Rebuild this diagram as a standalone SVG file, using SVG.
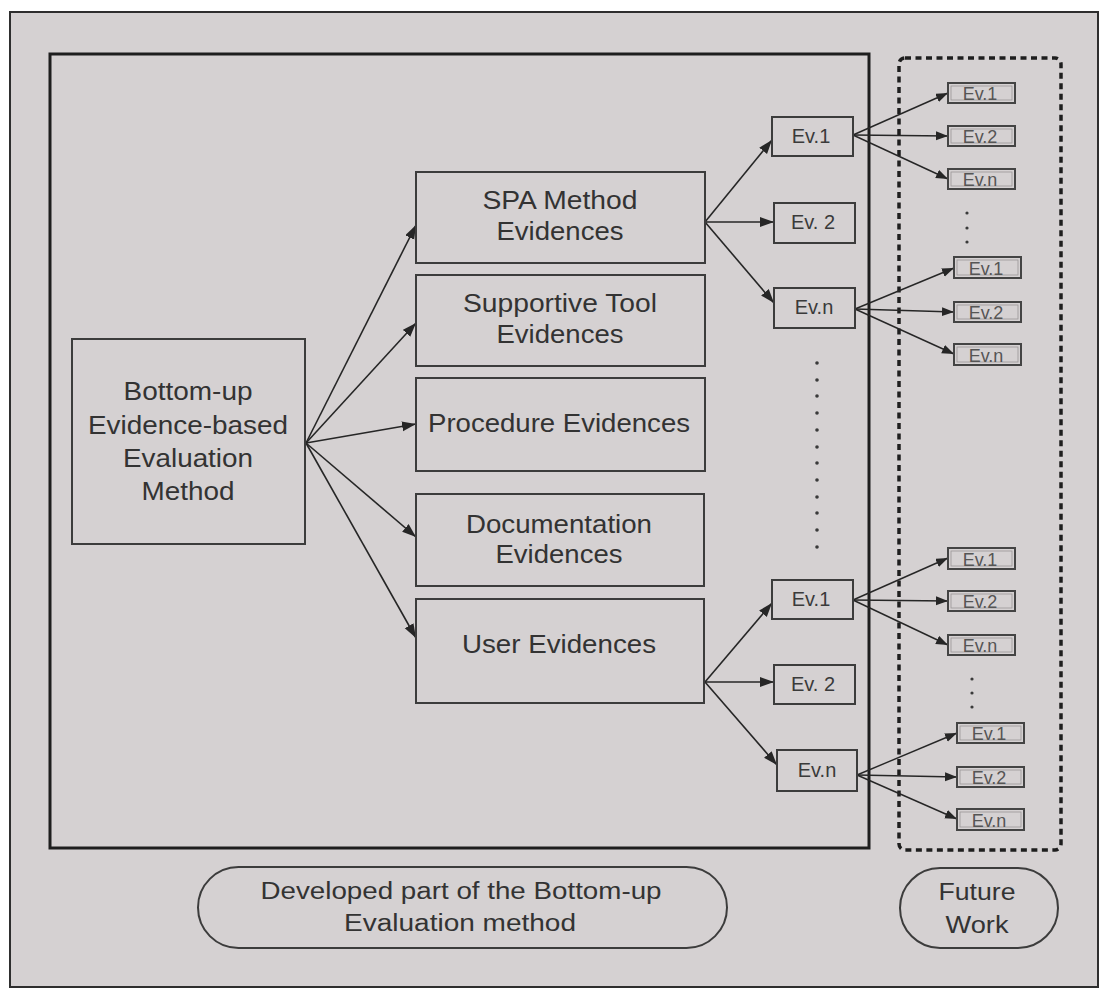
<svg xmlns="http://www.w3.org/2000/svg" width="1102" height="989" viewBox="0 0 1102 989">
  <defs>
    <marker id="arrow" markerUnits="userSpaceOnUse" markerWidth="15" markerHeight="11" refX="14" refY="5" orient="auto">
      <path d="M0,0 L14,5 L0,10 z" fill="#262626"/>
    </marker>
    <marker id="arrowSm" markerUnits="userSpaceOnUse" markerWidth="13" markerHeight="10" refX="12" refY="4.5" orient="auto">
      <path d="M0,0 L12,4.5 L0,9 z" fill="#262626"/>
    </marker>
    <style>
      .box { fill: none; stroke: #3c3c3c; stroke-width: 2; }
      .sm { fill: none; stroke: #444; stroke-width: 2; }
      .smin { fill: none; stroke: #9a9696; stroke-width: 0.8; }
      .lbl { font-family: "Liberation Sans", Arial, sans-serif; font-size: 25px; fill: #333; text-anchor: middle; }
      .ev { font-family: "Liberation Sans", Arial, sans-serif; font-size: 20px; fill: #3a3a3a; text-anchor: middle; }
      .evs { font-family: "Liberation Sans", Arial, sans-serif; font-size: 18px; fill: #555; text-anchor: middle; }
      .cap { font-family: "Liberation Sans", Arial, sans-serif; font-size: 23px; fill: #333; text-anchor: middle; }
      .conn line { stroke: #262626; stroke-width: 1.6; marker-end: url(#arrow); }
      .conn .s line { stroke-width: 1.4; marker-end: url(#arrowSm); }
      .dot { fill: #3a3a3a; }
    </style>
  </defs>

  <!-- page and frame -->
  <rect x="0" y="0" width="1102" height="989" fill="#ffffff"/>
  <rect x="10" y="12" width="1088" height="975" fill="#d5d1d2" stroke="#2e2e2e" stroke-width="2"/>

  <!-- developed part (solid) and future work (dashed) regions -->
  <rect id="developed-region" x="50" y="54" width="819" height="794" fill="none" stroke="#1e1e1e" stroke-width="3"/>
  <rect id="future-region" x="899" y="58" width="162" height="792" rx="6" fill="none" stroke="#1e1e1e" stroke-width="3.5" stroke-dasharray="6 4.5"/>

  <!-- connectors -->
  <g id="connectors" class="conn">
    <line x1="306" y1="443" x2="416" y2="225"/>
    <line x1="306" y1="443" x2="416" y2="323"/>
    <line x1="306" y1="443" x2="416" y2="424"/>
    <line x1="306" y1="443" x2="416" y2="537"/>
    <line x1="306" y1="443" x2="416" y2="638"/>

    <line x1="705" y1="222" x2="772" y2="140"/>
    <line x1="705" y1="222" x2="774" y2="222"/>
    <line x1="705" y1="222" x2="774" y2="303"/>

    <line x1="705" y1="682" x2="772" y2="603"/>
    <line x1="705" y1="682" x2="774" y2="682"/>
    <line x1="705" y1="682" x2="777" y2="765"/>

    <g class="s">
      <line x1="853" y1="135" x2="948" y2="93"/>
      <line x1="853" y1="135" x2="948" y2="136"/>
      <line x1="853" y1="135" x2="948" y2="179"/>

      <line x1="855" y1="309" x2="954" y2="268"/>
      <line x1="855" y1="309" x2="954" y2="312"/>
      <line x1="855" y1="309" x2="954" y2="354"/>

      <line x1="853" y1="600" x2="948" y2="558"/>
      <line x1="853" y1="600" x2="948" y2="601"/>
      <line x1="853" y1="600" x2="948" y2="645"/>

      <line x1="857" y1="775" x2="957" y2="733"/>
      <line x1="857" y1="775" x2="957" y2="777"/>
      <line x1="857" y1="775" x2="957" y2="819"/>
    </g>
  </g>

  <!-- root method -->
  <g id="node-method">
    <rect class="box" x="72" y="339" width="233" height="205"/>
    <text class="lbl" x="188" y="400" textLength="129" lengthAdjust="spacingAndGlyphs">Bottom-up</text>
    <text class="lbl" x="188" y="433.5" textLength="200" lengthAdjust="spacingAndGlyphs">Evidence-based</text>
    <text class="lbl" x="188" y="467" textLength="130" lengthAdjust="spacingAndGlyphs">Evaluation</text>
    <text class="lbl" x="188" y="500" textLength="93" lengthAdjust="spacingAndGlyphs">Method</text>
  </g>

  <!-- evidence categories -->
  <g id="node-spa">
    <rect class="box" x="416" y="172" width="289" height="91"/>
    <text class="lbl" x="560" y="209" textLength="155" lengthAdjust="spacingAndGlyphs">SPA Method</text>
    <text class="lbl" x="560" y="240" textLength="127" lengthAdjust="spacingAndGlyphs">Evidences</text>
  </g>
  <g id="node-tool">
    <rect class="box" x="416" y="275" width="289" height="91"/>
    <text class="lbl" x="560" y="312" textLength="194" lengthAdjust="spacingAndGlyphs">Supportive Tool</text>
    <text class="lbl" x="560" y="343" textLength="127" lengthAdjust="spacingAndGlyphs">Evidences</text>
  </g>
  <g id="node-procedure">
    <rect class="box" x="416" y="378" width="289" height="93"/>
    <text class="lbl" x="559" y="432" textLength="262" lengthAdjust="spacingAndGlyphs">Procedure Evidences</text>
  </g>
  <g id="node-documentation">
    <rect class="box" x="416" y="494" width="288" height="92"/>
    <text class="lbl" x="559" y="533" textLength="186" lengthAdjust="spacingAndGlyphs">Documentation</text>
    <text class="lbl" x="559" y="563" textLength="127" lengthAdjust="spacingAndGlyphs">Evidences</text>
  </g>
  <g id="node-user">
    <rect class="box" x="416" y="599" width="288" height="104"/>
    <text class="lbl" x="559" y="653" textLength="194" lengthAdjust="spacingAndGlyphs">User Evidences</text>
  </g>

  <!-- evidences, upper branch -->
  <g id="node-spa-ev1">
    <rect class="box" x="772" y="117" width="81" height="39"/>
    <text class="ev" x="811" y="143">Ev.1</text>
  </g>
  <g id="node-spa-ev2">
    <rect class="box" x="774" y="203" width="81" height="40"/>
    <text class="ev" x="813" y="229">Ev. 2</text>
  </g>
  <g id="node-spa-evn">
    <rect class="box" x="774" y="288" width="81" height="40"/>
    <text class="ev" x="814" y="314">Ev.n</text>
  </g>

  <!-- evidences, lower branch -->
  <g id="node-user-ev1">
    <rect class="box" x="772" y="580" width="81" height="39"/>
    <text class="ev" x="811" y="606">Ev.1</text>
  </g>
  <g id="node-user-ev2">
    <rect class="box" x="774" y="665" width="81" height="39"/>
    <text class="ev" x="813" y="691">Ev. 2</text>
  </g>
  <g id="node-user-evn">
    <rect class="box" x="777" y="750" width="80" height="41"/>
    <text class="ev" x="817" y="777">Ev.n</text>
  </g>

  <!-- continuation dots -->
  <g id="dots-middle" class="dot">
    <circle cx="817" cy="363" r="1.8"/><circle cx="817" cy="380" r="1.8"/>
    <circle cx="817" cy="396" r="1.8"/><circle cx="817" cy="413" r="1.8"/>
    <circle cx="817" cy="430" r="1.8"/><circle cx="817" cy="447" r="1.8"/>
    <circle cx="817" cy="463" r="1.8"/><circle cx="817" cy="480" r="1.8"/>
    <circle cx="817" cy="497" r="1.8"/><circle cx="817" cy="513" r="1.8"/>
    <circle cx="817" cy="530" r="1.8"/><circle cx="817" cy="547" r="1.8"/>
  </g>
  <g id="dots-future" class="dot">
    <circle cx="967" cy="213" r="1.6"/><circle cx="967" cy="228" r="1.6"/><circle cx="967" cy="242" r="1.6"/>
    <circle cx="972" cy="679" r="1.6"/><circle cx="972" cy="693" r="1.6"/><circle cx="972" cy="707" r="1.6"/>
  </g>

  <!-- future work sub-evidences -->
  <g id="fw-a1"><rect class="sm" x="948" y="83" width="67" height="20"/><rect class="smin" x="951" y="86" width="61" height="14"/><text class="evs" x="980" y="99.5">Ev.1</text></g>
  <g id="fw-a2"><rect class="sm" x="948" y="126" width="67" height="20"/><rect class="smin" x="951" y="129" width="61" height="14"/><text class="evs" x="980" y="142.5">Ev.2</text></g>
  <g id="fw-an"><rect class="sm" x="948" y="169" width="67" height="20"/><rect class="smin" x="951" y="172" width="61" height="14"/><text class="evs" x="980" y="185.5">Ev.n</text></g>

  <g id="fw-b1"><rect class="sm" x="954" y="257" width="67" height="21"/><rect class="smin" x="957" y="260" width="61" height="15"/><text class="evs" x="986" y="274.5">Ev.1</text></g>
  <g id="fw-b2"><rect class="sm" x="954" y="302" width="67" height="20"/><rect class="smin" x="957" y="305" width="61" height="14"/><text class="evs" x="986" y="318.5">Ev.2</text></g>
  <g id="fw-bn"><rect class="sm" x="954" y="344" width="67" height="21"/><rect class="smin" x="957" y="347" width="61" height="15"/><text class="evs" x="986" y="361.5">Ev.n</text></g>

  <g id="fw-c1"><rect class="sm" x="948" y="548" width="67" height="21"/><rect class="smin" x="951" y="551" width="61" height="15"/><text class="evs" x="980" y="565.5">Ev.1</text></g>
  <g id="fw-c2"><rect class="sm" x="948" y="591" width="67" height="20"/><rect class="smin" x="951" y="594" width="61" height="14"/><text class="evs" x="980" y="607.5">Ev.2</text></g>
  <g id="fw-cn"><rect class="sm" x="948" y="635" width="67" height="20"/><rect class="smin" x="951" y="638" width="61" height="14"/><text class="evs" x="980" y="651.5">Ev.n</text></g>

  <g id="fw-d1"><rect class="sm" x="957" y="723" width="67" height="20"/><rect class="smin" x="960" y="726" width="61" height="14"/><text class="evs" x="989" y="739.5">Ev.1</text></g>
  <g id="fw-d2"><rect class="sm" x="957" y="767" width="67" height="20"/><rect class="smin" x="960" y="770" width="61" height="14"/><text class="evs" x="989" y="783.5">Ev.2</text></g>
  <g id="fw-dn"><rect class="sm" x="957" y="809" width="67" height="21"/><rect class="smin" x="960" y="812" width="61" height="15"/><text class="evs" x="989" y="826.5">Ev.n</text></g>

  <!-- legend captions -->
  <g id="legend-developed">
    <rect x="198" y="867" width="529" height="81" rx="40.5" fill="none" stroke="#3c3c3c" stroke-width="2"/>
    <text class="cap" x="461" y="899" textLength="401" lengthAdjust="spacingAndGlyphs">Developed part of the Bottom-up</text>
    <text class="cap" x="460" y="931" textLength="232" lengthAdjust="spacingAndGlyphs">Evaluation method</text>
  </g>
  <g id="legend-future">
    <rect x="900" y="868" width="158" height="80" rx="40" fill="none" stroke="#3c3c3c" stroke-width="2"/>
    <text class="cap" x="977" y="900" textLength="77" lengthAdjust="spacingAndGlyphs">Future</text>
    <text class="cap" x="977" y="933" textLength="63" lengthAdjust="spacingAndGlyphs">Work</text>
  </g>
</svg>
